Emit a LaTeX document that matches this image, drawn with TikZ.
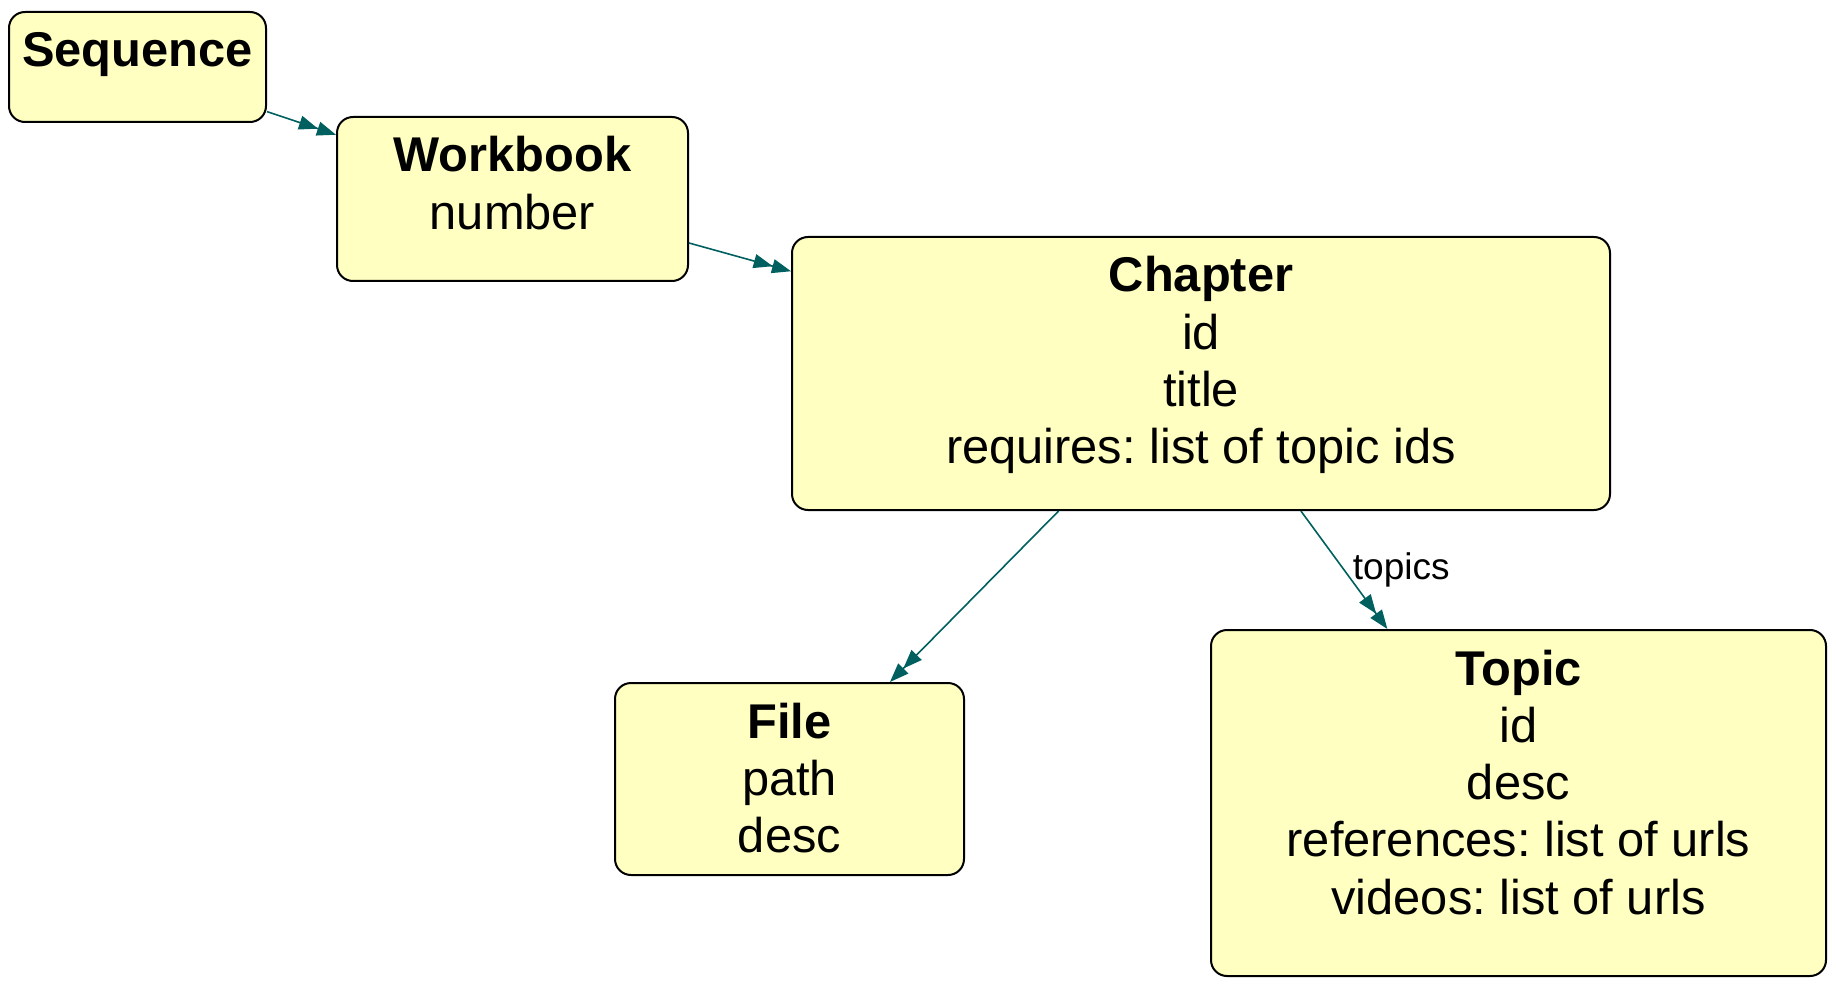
\documentclass[tikz,border=0pt]{standalone}
\usepackage{fontspec}
\setmainfont{Liberation Sans}
\usetikzlibrary{arrows.meta,positioning}
\definecolor{boxfill}{RGB}{255,255,194}
\definecolor{linkcol}{RGB}{0,96,96}
\frenchspacing

\begin{document}
\begin{tikzpicture}[x=0.5pt, y=-0.5pt,
        entity/.style={draw=black, line width=1pt, fill=boxfill, rounded corners=8pt, anchor=north,
            inner sep=0pt, text height=27.5pt, font=\fontsize{24.4}{28.65}\selectfont},
        link/.style={draw=linkcol, line width=0.8pt,
            -{Triangle[length=9.5pt,width=7pt,fill=linkcol] Triangle[length=9.5pt,width=7pt,fill=linkcol]}},
        linklabel/.style={font=\fontsize{18.5}{22}\selectfont, inner sep=4pt, anchor=west}]
    \useasboundingbox (0,0) rectangle (1836,984);
    % entities
    \node[entity, minimum width=128.5pt, text depth=27.5pt] (seq) at (137.5,11)
        {\begin{tabular}[t]{c}\textbf{Sequence}\end{tabular}};
    \node[entity, minimum width=175.5pt, text depth=54.5pt] (wb) at (512.5,116)
        {\begin{tabular}[t]{c}\textbf{Workbook}\\ number\end{tabular}};
    \node[entity, minimum width=409pt, text depth=109pt] (chap) at (1201,236)
        {\begin{tabular}[t]{c}\textbf{Chapter}\\ id\\ title\\ requires: list of topic ids\end{tabular}};
    \node[entity, minimum width=174.5pt, text depth=68.5pt] (file) at (789.5,682)
        {\begin{tabular}[t]{c}\textbf{File}\\ path\\ desc\end{tabular}};
    \node[entity, minimum width=307.5pt, text depth=145.5pt] (topic) at (1518.5,629)
        {\begin{tabular}[t]{c}\textbf{Topic}\\ id\\ desc\\ references: list of urls\\ videos: list of urls\end{tabular}};
    % links
    \draw[link] (seq.-19) -- (wb.160);
    \draw[link] (wb.-14) -- (chap.166);
    \draw[link] (chap.-136) -- (file.44);
    \draw[link] (chap.-54) -- node[linklabel] {topics} (topic.127);
\end{tikzpicture}
\end{document}
